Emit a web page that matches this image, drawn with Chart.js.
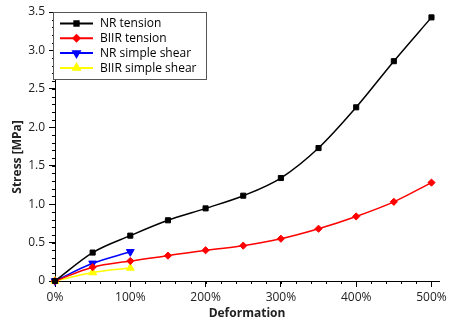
<!DOCTYPE html>
<html>
<head>
<meta charset="utf-8">
<script src="https://cdn.jsdelivr.net/npm/chart.js@4/dist/chart.umd.min.js"></script>
<style>
  body { margin: 0; background: #fff; }
  canvas { display: block; }
</style>
</head>
<body>
<canvas id="stressChart" width="458" height="324"></canvas>
<script>
  // deformation in %, stress in MPa
  const deformation = [0, 50, 100, 150, 200, 250, 300, 350, 400, 450, 500];
  const nrTension = [0, 0.37, 0.59, 0.79, 0.945, 1.11, 1.34, 1.73, 2.26, 2.86, 3.43];
  const biirTension = [0, 0.18, 0.26, 0.33, 0.40, 0.46, 0.55, 0.68, 0.84, 1.03, 1.28];
  const nrShear = [0, 0.23, 0.38];
  const biirShear = [0, 0.11, 0.17];

  const xTicks = [0, 100, 200, 300, 400, 500];
  const yTicks = [0, 0.5, 1, 1.5, 2, 2.5, 3, 3.5];

  const toPoints = vals => vals.map((v, i) => ({ x: deformation[i], y: v }));

  function series(label, vals, color, style, rot) {
    return {
      label: label,
      data: toPoints(vals),
      borderColor: color,
      backgroundColor: color,
      borderWidth: 1.5,
      pointStyle: style,
      pointRotation: rot || 0,
      pointRadius: style === "triangle" ? 4.5 : 3.6,
      pointBorderWidth: 1,
      cubicInterpolationMode: "monotone",
      clip: false
    };
  }

  /* minor ticks, y title, legend box */
  const decor = {
    id: "decor",
    afterDraw(chart) {
      const ctx = chart.ctx;
      const xs = chart.scales.x, ys = chart.scales.y;
      ctx.save();
      ctx.strokeStyle = "#000";
      ctx.lineWidth = 1;
      ctx.beginPath();
      for (let v = 0; v <= 500; v += 20) {
        const px = Math.round(xs.getPixelForValue(v)) + 0.5;
        ctx.moveTo(px, xs.top);
        ctx.lineTo(px, xs.top + 3);
      }
      for (let i = 0; i <= 35; i++) {
        const py = Math.round(ys.getPixelForValue(i / 10)) + 0.5;
        ctx.moveTo(ys.right, py);
        ctx.lineTo(ys.right - 3, py);
      }
      ctx.stroke();

      // y axis title
      ctx.save();
      ctx.translate(18, 157);
      ctx.rotate(-Math.PI / 2);
      ctx.font = "bold 12px 'Open Sans'";
      ctx.fillStyle = "#222";
      ctx.textAlign = "center";
      ctx.textBaseline = "middle";
      ctx.fillText("Stress [MPa]", 0, 0);
      ctx.restore();

      // legend
      const bx = 53.5, by = 12.5, bw = 153, bh = 67;
      ctx.fillStyle = "#fff";
      ctx.fillRect(bx, by, bw, bh);
      ctx.strokeStyle = "#555";
      ctx.strokeRect(bx, by, bw, bh);
      ctx.font = "12px 'Open Sans'";
      ctx.textBaseline = "middle";
      chart.data.datasets.forEach((ds, i) => {
        const y = 23.5 + i * 14.8;
        ctx.strokeStyle = ds.borderColor;
        ctx.lineWidth = 2;
        ctx.beginPath();
        ctx.moveTo(60, y);
        ctx.lineTo(93, y);
        ctx.stroke();
        ctx.fillStyle = ds.borderColor;
        Chart.helpers.drawPoint(ctx, {
          pointStyle: ds.pointStyle,
          rotation: ds.pointRotation,
          radius: ds.pointRadius * 0.85,
          borderWidth: 1
        }, 76.5, y);
        ctx.fillStyle = "#000";
        ctx.fillText(ds.label, 100, y + 0.5);
      });
      ctx.restore();
    }
  };

  new Chart(document.getElementById("stressChart"), {
    type: "line",
    data: {
      datasets: [
        series("NR tension", nrTension, "#000000", "rect"),
        series("BIIR tension", biirTension, "#ff0000", "rectRot"),
        series("NR simple shear", nrShear, "#0000ff", "triangle", 180),
        series("BIIR simple shear", biirShear, "#ffff00", "triangle")
      ]
    },
    options: {
      responsive: false,
      animation: false,
      layout: { padding: { top: 12, right: 19 } },
      plugins: { legend: { display: false }, tooltip: { enabled: false } },
      scales: {
        x: {
          type: "linear",
          min: 0,
          max: 510,
          afterFit: s => { s.height = 43; },
          afterBuildTicks: s => { s.ticks = xTicks.map(v => ({ value: v })); },
          border: { color: "#000", width: 1 },
          grid: { drawOnChartArea: false, tickLength: 6, tickColor: "#000" },
          ticks: {
            color: "#222",
            padding: 3,
            maxRotation: 0,
            font: { family: "'Open Sans'", size: 12 },
            callback: v => v + "%"
          },
          title: {
            display: true,
            text: "Deformation",
            color: "#222",
            padding: { top: 0, bottom: 3 },
            font: { family: "'Open Sans'", size: 12, weight: "bold" }
          }
        },
        y: {
          min: 0,
          max: 3.5,
          afterFit: s => { s.width = 55; },
          afterBuildTicks: s => { s.ticks = yTicks.map(v => ({ value: v })); },
          border: { color: "#000", width: 1 },
          grid: { drawOnChartArea: false, tickLength: 6, tickColor: "#000" },
          ticks: {
            color: "#222",
            padding: 4,
            font: { family: "'Open Sans'", size: 12 }
          }
        }
      }
    },
    plugins: [decor]
  });
</script>
</body>
</html>
